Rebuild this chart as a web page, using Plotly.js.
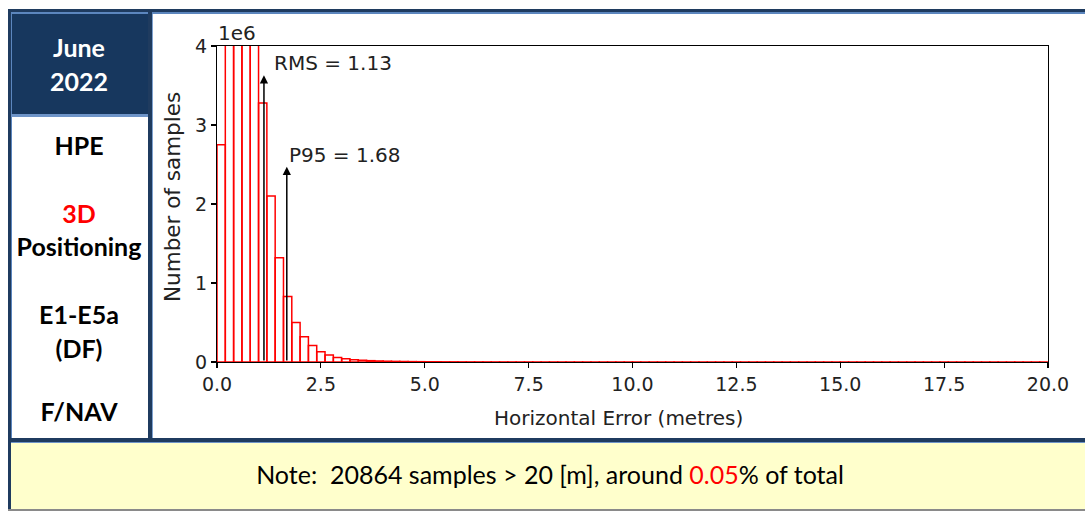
<!DOCTYPE html>
<html><head><meta charset="utf-8">
<script src="https://cdn.plot.ly/plotly-3.0.1.min.js"></script>
<style>
html,body{margin:0;padding:0;width:1085px;height:512px;overflow:hidden;background:#fff;}
.a{position:absolute;}
.lbl{position:absolute;left:9px;width:140px;text-align:center;font-family:Lato,"Open Sans",sans-serif;font-weight:bold;font-size:25px;line-height:30px;color:#000;}
</style></head><body>
<!-- table frame -->
<div class="a" style="left:9px;top:441px;width:1076px;height:68px;background:#FFFFCC"></div>
<div class="a" style="left:10px;top:13px;width:138px;height:102px;background:#17375E"></div>
<div class="a" style="left:8px;top:9px;width:1077px;height:3px;background:#1F3B5F"></div>
<div class="a" style="left:11px;top:12px;width:1074px;height:2px;background:#5C86BE"></div>
<div class="a" style="left:8px;top:9px;width:3px;height:500px;background:#1F3B5F"></div>
<div class="a" style="left:11px;top:12px;width:1px;height:426px;background:#5C86BE"></div>
<div class="a" style="left:148px;top:12px;width:4px;height:428px;background:#1F3B5F"></div>
<div class="a" style="left:152px;top:14px;width:1px;height:424px;background:#7FA2D0"></div>
<div class="a" style="left:11px;top:114px;width:137px;height:3px;background:#6E94C8"></div>
<div class="a" style="left:8px;top:438px;width:1077px;height:4px;background:#1F3B5F"></div>
<div class="a" style="left:11px;top:442px;width:1074px;height:1px;background:#6E94C8"></div>
<div class="a" style="left:8px;top:509px;width:1077px;height:2px;background:#8A8A8A"></div>

<div class="lbl" style="top:32px;color:#fff">June</div>
<div class="lbl" style="top:66px;color:#fff">2022</div>
<div class="lbl" style="top:130px">HPE</div>
<div class="lbl" style="top:198px;color:#FF0000">3D</div>
<div class="lbl" style="top:231px">Positioning</div>
<div class="lbl" style="top:299px">E1-E5a</div>
<div class="lbl" style="top:333px">(DF)</div>
<div class="lbl" style="top:396px">F/NAV</div>
<div class="a" style="left:9px;width:1082px;top:459px;text-align:center;font-family:Lato,'Open Sans',sans-serif;font-size:25px;line-height:30px;color:#000;">Note:&nbsp; 20864 samples &gt; 20 [m], around <span style="color:#FF0000">0.05</span>% of total</div>

<div id="chart" class="a" style="left:0;top:0;width:1085px;height:512px;"></div>
<script>
// Histogram of horizontal error, bin width 0.2 m, from 0 to 20 m
const binWidth = 0.2;
const counts = [
  2750000, 5600000, 7200000, 7400000, 5800000,
  3280000, 2100000, 1320000, 830000, 500000,
  320000, 210000, 130000, 90000, 58000,
  40000, 30000, 22000, 17000, 13000,
  10000, 8000, 6500, 5200, 4200,
  3500, 2900, 2400, 2000, 1700, 1450, 1250, 1100, 960, 850,
  760, 680, 610, 550, 500, 460, 420, 390, 360, 335,
  310, 290, 272, 256, 242, 229, 217, 206, 196, 187,
  179, 171, 164, 158, 152, 146, 141, 136, 132, 128,
  124, 120, 117, 114, 111, 108, 105, 103, 100, 98,
  96, 94, 92, 90, 88, 86, 85, 83, 82, 80,
  79, 78, 76, 75, 74, 73, 72, 71, 70, 69,
  68, 67, 66, 65, 64
];
const xTickVals = [0, 2.5, 5, 7.5, 10, 12.5, 15, 17.5, 20];
const yTickVals = [0, 1e6, 2e6, 3e6, 4e6];
const yTickText = ['0', '1', '2', '3', '4'];
const yScaleLabel = '1e6';
const xTitle = 'Horizontal Error (metres)';
const yTitle = 'Number of samples';
const rmsValue = 1.13;
const p95Value = 1.68;
const rmsArrowTop = 3.63e6;
const p95ArrowTop = 2.47e6;

const binCenters = counts.map((c, i) => (i + 0.5) * binWidth);
const tickFont = {family: 'DejaVu Sans', size: 19, color: '#222'};
const textFont = {family: 'DejaVu Sans', size: 20, color: '#222'};
const yTitleFont = {family: 'DejaVu Sans', size: 21.5, color: '#222'};

const trace = {
  type: 'bar', x: binCenters, y: counts, width: binWidth,
  marker: {color: 'rgba(0,0,0,0)', line: {color: '#FF0000', width: 1.5}},
  hoverinfo: 'none'
};

const layout = {
  width: 1085, height: 512,
  margin: {l: 217, r: 37, t: 46, b: 150, pad: 0},
  paper_bgcolor: 'rgba(0,0,0,0)', plot_bgcolor: 'rgba(0,0,0,0)',
  showlegend: false, bargap: 0, font: tickFont,
  xaxis: {
    range: [0, 20], tickvals: xTickVals, tickformat: '.1f',
    ticks: 'outside', ticklen: 5, tickwidth: 1.2, tickcolor: '#000',
    showline: true, linecolor: '#000', linewidth: 1.2, mirror: true,
    layer: 'below traces',
    showgrid: false, zeroline: false, tickfont: tickFont
  },
  yaxis: {
    range: [0, 4e6], tickvals: yTickVals, ticktext: yTickText,
    ticks: 'outside', ticklen: 5, tickwidth: 1.2, tickcolor: '#000',
    showline: true, linecolor: '#000', linewidth: 1.2, mirror: true,
    showgrid: false, zeroline: false, tickfont: tickFont
  },
  annotations: [
    {xref: 'paper', yref: 'paper', x: 0.5, y: 0, xanchor: 'center', yanchor: 'middle',
     xshift: -14, yshift: -56, text: xTitle, showarrow: false, font: textFont},
    {xref: 'paper', yref: 'paper', x: 0, y: 0.5, xanchor: 'center', yanchor: 'middle',
     xshift: -45, yshift: 7, textangle: -90, text: yTitle, showarrow: false, font: yTitleFont},
    {xref: 'paper', yref: 'paper', x: 0, y: 1, xanchor: 'left', yanchor: 'bottom',
     text: yScaleLabel, showarrow: false, font: textFont, borderpad: 0},
    {x: rmsValue, y: rmsArrowTop, ax: rmsValue, ay: 0, axref: 'x', ayref: 'y',
     text: '', showarrow: true, arrowhead: 2, arrowsize: 1.1, arrowwidth: 1.5, arrowcolor: '#000'},
    {x: p95Value, y: p95ArrowTop, ax: p95Value, ay: 0, axref: 'x', ayref: 'y',
     text: '', showarrow: true, arrowhead: 2, arrowsize: 1.1, arrowwidth: 1.5, arrowcolor: '#000'},
    {x: rmsValue, y: rmsArrowTop, xanchor: 'left', yanchor: 'bottom', xshift: 8, yshift: -2,
     text: 'RMS = ' + rmsValue.toFixed(2), showarrow: false, font: textFont},
    {x: p95Value, y: p95ArrowTop, xanchor: 'left', yanchor: 'bottom', xshift: 0, yshift: -2,
     text: 'P95 = ' + p95Value.toFixed(2), showarrow: false, font: textFont}
  ]
};

Plotly.newPlot('chart', [trace], layout, {staticPlot: true, displayModeBar: false});
</script>
</body></html>
